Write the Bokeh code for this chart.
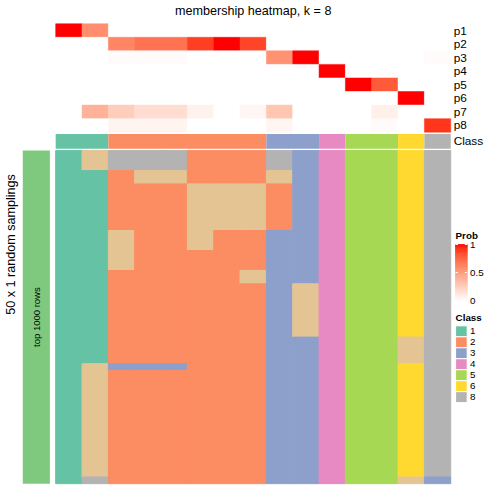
import numpy as np
from bokeh.plotting import figure
from bokeh.models import Range1d
from bokeh.core.properties import value
from bokeh.embed import file_html
from bokeh.resources import INLINE

# ---------------- data ----------------
title = "membership heatmap, k = 8"
prob_labels = ["p1", "p2", "p3", "p4", "p5", "p6", "p7", "p8"]
p1 = [1.00, 0.58, 0, 0, 0, 0, 0, 0, 0, 0, 0, 0, 0, 0, 0]
p2 = [0, 0, 0.62, 0.70, 0.70, 0.90, 1.00, 0.88, 0, 0, 0, 0, 0, 0, 0]
p3 = [0, 0, 0.02, 0.02, 0.02, 0, 0, 0, 0.56, 1.00, 0, 0, 0, 0, 0.02]
p4 = [0, 0, 0, 0, 0, 0, 0, 0, 0, 0, 1.00, 0, 0, 0, 0]
p5 = [0, 0, 0, 0, 0, 0, 0, 0, 0, 0, 0, 1.00, 0.80, 0, 0]
p6 = [0, 0, 0, 0, 0, 0, 0, 0, 0, 0, 0, 0, 0, 1.00, 0]
p7 = [0, 0.40, 0.26, 0.18, 0.18, 0.07, 0, 0.05, 0.30, 0, 0, 0, 0.08, 0, 0]
p8 = [0, 0, 0.06, 0.06, 0.06, 0, 0, 0, 0.05, 0, 0, 0, 0.02, 0, 0.92]
prob_rows = [p1, p2, p3, p4, p5, p6, p7, p8]

class_row = [1, 1, 2, 2, 2, 2, 2, 2, 3, 3, 4, 5, 5, 6, 8]

# 50 random samplings (one string per sampling, one char per sample = class)
samplings = (
    ["178882228345568"] * 3 +
    ["112772227345568"] * 2 +
    ["112227772345568"] * 7 +
    ["117227223345568"] * 3 +
    ["117222223345568"] * 3 +
    ["112222273345568"] * 2 +
    ["112222223745568"] * 8 +
    ["112222223345578"] * 4 +
    ["173332223345568"] * 1 +
    ["172222223345568"] * 16 +
    ["182222223345573"] * 1
)

class_colors = {1: "#66C2A5", 2: "#FC8D62", 3: "#8DA0CB", 4: "#E78AC3",
                5: "#A6D854", 6: "#FFD92F", 7: "#E5C494", 8: "#B3B3B3"}
legend_classes = [1, 2, 3, 4, 5, 6, 8]
prob_ticks = [0, 0.5, 1]
prob_tick_labels = ["0", "0.5", "1"]
row_anno_label = "top 1000 rows"
row_title = "50 x 1 random samplings"

# ---------------- colour ramp (white -> red in LAB) ----------------
def _lin(c):
    c = c / 255.0
    return c / 12.92 if c <= 0.04045 else ((c + 0.055) / 1.055) ** 2.4

def _gam(c):
    c = min(max(c, 0.0), 1.0)
    v = 12.92 * c if c <= 0.0031308 else 1.055 * c ** (1 / 2.4) - 0.055
    return int(round(v * 255))

WX, WY, WZ = 0.95047, 1.0, 1.08883

def rgb2lab(r, g, b):
    r, g, b = _lin(r), _lin(g), _lin(b)
    X = 0.4124 * r + 0.3576 * g + 0.1805 * b
    Y = 0.2126 * r + 0.7152 * g + 0.0722 * b
    Z = 0.0193 * r + 0.1192 * g + 0.9505 * b
    def f(t):
        return t ** (1 / 3) if t > 0.008856 else 7.787 * t + 16 / 116
    fx, fy, fz = f(X / WX), f(Y / WY), f(Z / WZ)
    return 116 * fy - 16, 500 * (fx - fy), 200 * (fy - fz)

def lab2hex(L, a, b):
    fy = (L + 16) / 116
    fx = fy + a / 500
    fz = fy - b / 200
    def fi(t):
        return t ** 3 if t ** 3 > 0.008856 else (t - 16 / 116) / 7.787
    X, Y, Z = WX * fi(fx), WY * fi(fy), WZ * fi(fz)
    r = 3.2406 * X - 1.5372 * Y - 0.4986 * Z
    g = -0.9689 * X + 1.8758 * Y + 0.0415 * Z
    bb = 0.0557 * X - 0.2040 * Y + 1.0570 * Z
    return "#%02x%02x%02x" % (_gam(r), _gam(g), _gam(bb))

LAB_W = rgb2lab(255, 255, 255)
LAB_R = rgb2lab(255, 0, 0)

def prob_color(t):
    return lab2hex(*[w + (r - w) * t for w, r in zip(LAB_W, LAB_R)])

# ---------------- layout (reference pixel units, 504 wide) ----------------
S = 504.0
FONT = value("Liberation Sans")

def rng_x(r0, r1, v0, v1):
    k = (v1 - v0) / (r1 - r0)
    return Range1d(start=v0 - r0 * k, end=v0 + (S - r0) * k)

def rng_y(r0, r1, v0, v1):
    k = (v1 - v0) / (r1 - r0)
    return Range1d(start=v0 + (S - r0) * k, end=v0 - r0 * k)

ncol = len(class_row)
nsamp = len(samplings)

p = figure(width=488, height=488, x_range=Range1d(0, S), y_range=Range1d(S, 0),
           output_backend="svg", toolbar_location=None, min_border=0,
           x_axis_location=None, y_axis_location=None)
p.grid.visible = False
p.outline_line_color = None
p.background_fill_color = "white"

p.extra_x_ranges = {"cols": rng_x(57, 465, 0, ncol)}
p.extra_y_ranges = {
    "prob": rng_y(24, 136, 0, len(prob_rows)),
    "cls": rng_y(138, 153, 0, 1),
    "main": rng_y(155, 499, 0, nsamp),
    "cbar": rng_y(310, 252, 0, 1),
    "sw": rng_y(336, 415.3, 0, len(legend_classes)),
}

# probability rows (horizontal runs of equal value merged)
L, R, T, B, C = [], [], [], [], []
for i, row in enumerate(prob_rows):
    j = 0
    while j < ncol:
        k = j
        while k + 1 < ncol and row[k + 1] == row[j]:
            k += 1
        L.append(j); R.append(k + 1); T.append(i); B.append(i + 1)
        C.append(prob_color(row[j]))
        j = k + 1
p.quad(left=L, right=R, top=T, bottom=B, fill_color=C, line_color=C, line_width=0.5,
       x_range_name="cols", y_range_name="prob")

# class row (runs merged)
L, R, C = [], [], []
j = 0
while j < ncol:
    k = j
    while k + 1 < ncol and class_row[k + 1] == class_row[j]:
        k += 1
    L.append(j); R.append(k + 1); C.append(class_colors[class_row[j]])
    j = k + 1
p.quad(left=L, right=R, top=[0] * len(L), bottom=[1] * len(L), fill_color=C,
       line_color=None, x_range_name="cols", y_range_name="cls")

# main heatmap: vertical runs per column merged
L, R, T, B, C = [], [], [], [], []
for j in range(ncol):
    col = [int(s[j]) for s in samplings]
    i = 0
    while i < nsamp:
        k = i
        while k + 1 < nsamp and col[k + 1] == col[i]:
            k += 1
        L.append(j); R.append(j + 1); T.append(i); B.append(k + 1)
        C.append(class_colors[col[i]])
        i = k + 1
p.quad(left=L, right=R, top=T, bottom=B, fill_color=C, line_color=C, line_width=1,
       x_range_name="cols", y_range_name="main")

# left row annotation block
p.quad(left=[23], right=[51], top=[0], bottom=[nsamp], fill_color="#7FC97F",
       line_color=None, y_range_name="main")
p.text(x=[37], y=[nsamp / 2], text=[row_anno_label], angle=np.pi / 2,
       text_font=FONT, text_font_size=value("9.5px"), text_align="center",
       text_baseline="middle", text_color="black", y_range_name="main")
p.text(x=[11], y=[252], text=[row_title], angle=np.pi / 2, text_font=FONT,
       text_font_size=value("12.6px"), text_align="center", text_baseline="middle",
       text_color="black")

# title
p.text(x=[ncol / 2], y=[11], text=[title], text_font=FONT,
       text_font_size=value("12.6px"), text_align="center", text_baseline="middle",
       text_color="black", x_range_name="cols")

# row labels
p.text(x=[468] * len(prob_labels), y=[i + 0.5 for i in range(len(prob_labels))],
       text=prob_labels, text_font=FONT, text_font_size=value("11.8px"),
       text_align="left", text_baseline="middle", text_color="black",
       y_range_name="prob")
p.text(x=[468], y=[0.5], text=["Class"], text_font=FONT, text_font_size=value("11.8px"),
       text_align="left", text_baseline="middle", text_color="black",
       y_range_name="cls")

# Prob legend
p.text(x=[470], y=[243], text=["Prob"], text_font=FONT, text_font_size=value("9.8px"),
       text_font_style="bold", text_align="left", text_baseline="middle",
       text_color="black")
gv = np.linspace(0, 1, 61)
p.quad(left=[470] * 60, right=[482] * 60, bottom=list(gv[:-1]), top=list(gv[1:]),
       fill_color=[prob_color((a + b) / 2) for a, b in zip(gv[:-1], gv[1:])],
       line_color=[prob_color((a + b) / 2) for a, b in zip(gv[:-1], gv[1:])],
       line_width=0.8, y_range_name="cbar")
tk = [t for t in prob_ticks if t > 0]
p.segment(x0=[470] * len(tk), x1=[472.5] * len(tk), y0=tk, y1=tk, line_color="white",
          line_width=1, y_range_name="cbar")
p.segment(x0=[479.5] * len(tk), x1=[482] * len(tk), y0=tk, y1=tk, line_color="white",
          line_width=1, y_range_name="cbar")
p.text(x=[485] * len(prob_ticks), y=prob_ticks, text=prob_tick_labels, text_font=FONT,
       text_font_size=value("9.8px"), text_align="left", text_baseline="middle",
       text_color="black", y_range_name="cbar")

# Class legend
p.text(x=[470], y=[327], text=["Class"], text_font=FONT, text_font_size=value("9.8px"),
       text_font_style="bold", text_align="left", text_baseline="middle",
       text_color="black")
nl = len(legend_classes)
p.quad(left=[470] * nl, right=[482] * nl, top=list(range(nl)),
       bottom=[i + 1 for i in range(nl)],
       fill_color=[class_colors[c] for c in legend_classes], line_color="white",
       line_width=1, y_range_name="sw")
p.text(x=[485] * nl, y=[i + 0.5 for i in range(nl)], text=[str(c) for c in legend_classes],
       text_font=FONT, text_font_size=value("9.8px"), text_align="left",
       text_baseline="middle", text_color="black", y_range_name="sw")

open("out.html", "w").write(file_html(p, INLINE))
